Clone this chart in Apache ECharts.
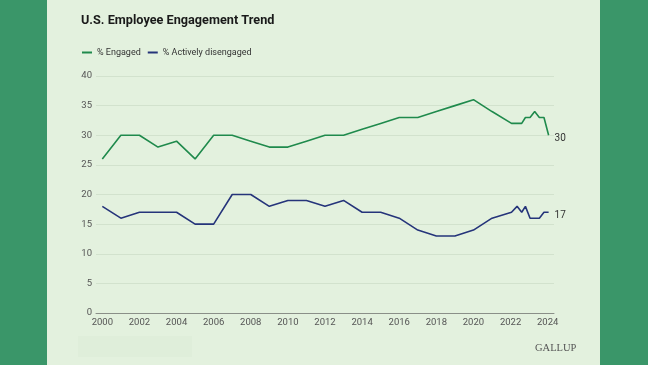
<!DOCTYPE html>
<html>
<head>
<meta charset="utf-8">
<script src="https://cdn.jsdelivr.net/npm/echarts@6/dist/echarts.min.js"></script>
<style>
html,body{margin:0;padding:0;}
#chart{width:648px;height:365px;background:linear-gradient(to right,#3a9669 0,#3a9669 47px,#e3f1de 47px,#e3f1de 600px,#3a9669 600px,#3a9669 648px);}
</style>
</head>
<body>
<div id="chart"></div>
<script>
const yearTicks = [2000,2002,2004,2006,2008,2010,2012,2014,2016,2018,2020,2022,2024];
const engagedX = [2000,2001,2002,2003,2004,2005,2006,2007,2008,2009,2010,2011,2012,2013,2014,2015,2016,2017,2018,2019,2020,2021,2022.05,2022.35,2022.6,2022.8,2023.05,2023.3,2023.55,2023.8,2024.05];
const engagedY = [26,30,30,28,29,26,30,30,29,28,28,29,30,30,31,32,33,33,34,35,36,34,32,32,32,33,33,34,33,33,30];
const disengagedX = engagedX;
const disengagedY = [18,16,17,17,17,15,15,20,20,18,19,19,18,19,17,17,16,14,13,13,14,16,17,18,17,18,16,16,16,17,17];

const pairs = (xs, ys) => xs.map((x, i) => [x, ys[i]]);
const FONT = 'Roboto';
const chart = echarts.init(document.getElementById('chart'), null, {renderer: 'canvas'});
chart.setOption({
  animation: false,
  backgroundColor: 'transparent',
  title: [
    {text: 'U.S. Employee Engagement Trend', left: 76, top: 9,
     textStyle: {fontFamily: FONT, fontWeight: 700, fontSize: 12.7, color: '#1a1a1a'}},
    {text: 'GALLUP', left: 530, top: 338,
     textStyle: {fontFamily: 'Liberation Serif', fontWeight: 400, fontSize: 10.5, color: '#555'}}
  ],
  graphic: [
    {type: 'rect', left: 78, top: 336, shape: {width: 114, height: 21}, style: {fill: '#dfeeda'}, silent: true}
  ],
  legend: {
    left: 77, top: 43, itemWidth: 10, itemHeight: 2, itemGap: 7, icon: 'rect',
    textStyle: {fontFamily: FONT, fontSize: 9, color: '#333'},
    data: ['% Engaged', '% Actively disengaged']
  },
  grid: {left: 96, right: 94, top: 76, bottom: 52, containLabel: false},
  xAxis: {
    type: 'value', min: 1999.66, max: 2024.34,
    axisLine: {show: true, lineStyle: {color: '#8a8f88', width: 1}},
    axisTick: {show: false},
    splitLine: {show: false},
    axisLabel: {customValues: yearTicks, margin: 5, fontFamily: FONT, fontSize: 9.5, color: '#555',
                formatter: v => String(Math.round(v))}
  },
  yAxis: {
    type: 'value', min: 0, max: 40, interval: 5,
    axisLine: {show: false}, axisTick: {show: false},
    splitLine: {lineStyle: {color: '#d2e2cd', width: 1}},
    axisLabel: {margin: 4, fontFamily: FONT, fontSize: 9.5, color: '#555'}
  },
  series: [
    {name: '% Engaged', type: 'line', data: pairs(engagedX, engagedY), showSymbol: false, symbol: 'none',
     color: '#1f8a4c', lineStyle: {width: 1.6, color: '#1f8a4c'},
     endLabel: {show: true, distance: 6, offset: [0, 3], formatter: p => p.value[1], fontFamily: FONT, fontSize: 10, color: '#333'}},
    {name: '% Actively disengaged', type: 'line', data: pairs(disengagedX, disengagedY), showSymbol: false, symbol: 'none',
     color: '#25347a', lineStyle: {width: 1.6, color: '#25347a'},
     endLabel: {show: true, distance: 6, offset: [0, 3], formatter: p => p.value[1], fontFamily: FONT, fontSize: 10, color: '#333'}}
  ]
});
</script>
</body>
</html>
